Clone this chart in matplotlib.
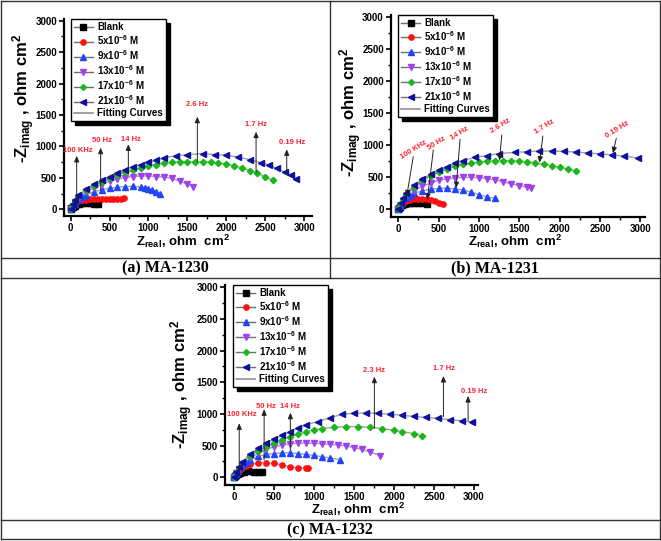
import matplotlib
matplotlib.use("Agg")
import matplotlib.pyplot as plt
from matplotlib.lines import Line2D
from matplotlib.ticker import MultipleLocator

plt.rcParams['font.family'] = ['Liberation Sans', 'DejaVu Sans']
plt.rcParams['font.weight'] = 'bold'
plt.rcParams['mathtext.fontset'] = 'custom'
plt.rcParams['mathtext.bf'] = 'Liberation Sans:bold'
plt.rcParams['mathtext.rm'] = 'Liberation Sans:bold'
plt.rcParams['mathtext.default'] = 'bf'

# ---------------- data ----------------
series_labels = ['Blank', '5x10$^{-6}$ M', '9x10$^{-6}$ M', '13x10$^{-6}$ M',
                 '17x10$^{-6}$ M', '21x10$^{-6}$ M']
series_colors = ['#000000', '#ff1010', '#2244ff', '#a040f0', '#18b818', '#1010a0']
series_markers = ['s', 'o', '^', 'v', 'D', '<']
panel_captions = ['(a) MA-1230', '(b) MA-1231', '(c) MA-1232']

# Panel (a) MA-1230
a_blank_x = [0, 10, 25, 50, 80, 110, 150, 200, 250, 300, 350]
a_blank_y = [0, 20, 40, 60, 78, 88, 95, 95, 92, 90, 88]
a_5_x = [0, 15, 35, 60, 100, 150, 200, 250, 300, 350, 400, 450, 500, 550, 600, 650, 690]
a_5_y = [0, 30, 60, 95, 125, 145, 155, 160, 160, 158, 158, 158, 160, 162, 165, 170, 175]
a_9_x = [0, 20, 50, 100, 150, 200, 300, 400, 500, 600, 700, 800, 900, 950, 1000, 1050, 1100, 1150]
a_9_y = [0, 45, 90, 150, 195, 230, 280, 310, 335, 350, 360, 365, 355, 345, 330, 310, 280, 250]
a_13_x = [0, 25, 60, 100, 200, 300, 400, 500, 600, 700, 800, 900, 1000, 1100, 1200, 1300, 1400, 1500, 1570]
a_13_y = [0, 60, 120, 170, 270, 340, 400, 445, 480, 505, 520, 530, 530, 520, 515, 490, 450, 400, 360]
a_17_x = [0, 30, 60, 100, 200, 300, 400, 500, 600, 700, 800, 900, 1000, 1100, 1200, 1300, 1400, 1500,
          1600, 1700, 1800, 1900, 2000, 2100, 2200, 2300, 2400, 2500, 2600]
a_17_y = [0, 75, 135, 200, 300, 370, 430, 490, 540, 590, 620, 660, 690, 710, 730, 745, 750, 755,
          755, 755, 745, 735, 720, 690, 660, 615, 570, 520, 460]
a_21_x = [0, 30, 60, 100, 200, 300, 400, 500, 600, 700, 800, 900, 1000, 1100, 1200, 1350, 1500, 1700,
          1850, 2000, 2150, 2300, 2450, 2550, 2650, 2750, 2830, 2900]
a_21_y = [0, 85, 150, 220, 320, 400, 470, 520, 580, 630, 680, 710, 750, 780, 820, 850, 870, 885,
          870, 860, 830, 790, 740, 700, 650, 590, 545, 480]

# Panel (b) MA-1231
b_blank_x = [0, 10, 25, 50, 80, 120, 160, 200, 250, 300, 350]
b_blank_y = [0, 22, 42, 65, 82, 92, 98, 100, 98, 94, 90]
b_5_x = [0, 15, 35, 60, 100, 150, 200, 250, 300, 350, 400, 450, 500, 560]
b_5_y = [0, 35, 65, 95, 125, 150, 162, 165, 163, 155, 140, 125, 105, 90]
b_9_x = [0, 20, 50, 100, 150, 200, 300, 400, 500, 600, 700, 800, 900, 1000, 1100, 1200]
b_9_y = [0, 50, 95, 170, 215, 250, 290, 315, 325, 330, 320, 300, 270, 230, 195, 170]
b_13_x = [0, 25, 60, 100, 200, 300, 400, 500, 600, 700, 800, 900, 1000, 1100, 1200, 1300, 1400, 1500, 1600, 1650]
b_13_y = [0, 65, 130, 190, 290, 360, 410, 450, 475, 490, 500, 500, 495, 480, 460, 430, 400, 370, 345, 330]
b_17_x = [0, 30, 60, 100, 200, 300, 400, 500, 600, 700, 800, 900, 1000, 1100, 1200, 1300, 1400, 1500,
          1600, 1700, 1800, 1900, 2000, 2100, 2200]
b_17_y = [0, 85, 155, 230, 350, 450, 520, 580, 630, 670, 700, 720, 740, 750, 755, 760, 758, 750,
          740, 725, 705, 680, 655, 630, 600]
b_21_x = [0, 30, 60, 100, 200, 300, 400, 500, 600, 700, 800, 950, 1100, 1250, 1450, 1600, 1750, 1900,
          2050, 2200, 2350, 2500, 2650, 2800, 2970]
b_21_y = [0, 95, 170, 250, 380, 470, 550, 610, 660, 720, 760, 810, 840, 870, 890, 900, 910, 910,
          905, 895, 880, 865, 850, 830, 800]

# Panel (c) MA-1232
c_blank_x = [0, 10, 30, 55, 80, 130, 180, 250, 300, 350]
c_blank_y = [0, 18, 40, 58, 70, 90, 95, 90, 88, 85]
c_5_x = [0, 15, 35, 60, 100, 150, 200, 300, 400, 500, 600, 700, 800, 900, 920]
c_5_y = [0, 35, 65, 95, 140, 180, 205, 225, 230, 220, 195, 165, 150, 150, 152]
c_9_x = [0, 20, 50, 100, 150, 200, 300, 400, 500, 600, 700, 800, 900, 1000, 1100, 1200, 1320]
c_9_y = [0, 55, 100, 180, 230, 270, 330, 360, 375, 385, 385, 375, 360, 345, 325, 305, 280]
c_13_x = [0, 25, 60, 100, 200, 300, 400, 500, 600, 700, 800, 900, 1000, 1100, 1200, 1300, 1400, 1500,
          1600, 1700, 1830]
c_13_y = [0, 70, 135, 200, 300, 380, 440, 480, 510, 530, 540, 540, 535, 530, 520, 510, 495, 470,
          440, 400, 340]
c_17_x = [0, 30, 60, 100, 200, 300, 400, 500, 600, 700, 800, 900, 1000, 1100, 1250, 1400, 1550, 1700,
          1850, 2000, 2100, 2250, 2350]
c_17_y = [0, 80, 145, 220, 330, 420, 480, 540, 590, 640, 680, 720, 750, 770, 790, 800, 800, 790,
          770, 740, 720, 690, 650]
c_21_x = [0, 30, 60, 100, 200, 300, 400, 500, 600, 700, 800, 900, 1050, 1200, 1350, 1500, 1650, 1800,
          1950, 2100, 2250, 2400, 2550, 2700, 2850, 2980]
c_21_y = [0, 90, 160, 240, 360, 460, 540, 600, 660, 720, 780, 830, 880, 940, 995, 1010, 1015, 1010,
          995, 980, 960, 945, 930, 910, 890, 870]

# frequency annotations
a_freq_labels = ['100 KHz', '50 Hz', '14 Hz', '2.6 Hz', '1.7 Hz', '0.19 Hz']
a_text_x = [90, 407, 771, 1628, 2383, 2841]
a_text_y = [930, 1090, 1110, 1660, 1350, 1060]
a_arrow_x = [77, 385, 741, 1628, 2383, 2777]
a_arrow_y0 = [40, 307, 560, 757, 580, 561]
a_arrow_y1 = [850, 980, 1034, 1473, 1235, 954]

b_freq_labels = ['100 KHz', '50 Hz', '14 Hz', '2.6 Hz', '1.7 Hz', '0.19 Hz']
b_text_x = [186, 476, 766, 1262, 1808, 2711]
b_text_y = [927, 1031, 1187, 1302, 1281, 1239]
b_line_x0 = [186, 434, 766, 1283, 1792, 2702]
b_line_y0 = [822, 926, 1094, 1161, 1145, 1109]
b_line_x1 = [104, 360, 716, 1254, 1750, 2661]
b_line_y1 = [200, 150, 330, 760, 728, 875]

c_freq_labels = ['100 KHz', '50 Hz', '14 Hz', '2.3 Hz', '1.7 Hz', '0.19 Hz']
c_text_x = [96, 398, 705, 1755, 2627, 3000]
c_text_y = [995, 1110, 1120, 1690, 1720, 1360]
c_arrow_x = [66, 377, 705, 1755, 2618, 2926]
c_arrow_y0 = [115, 273, 431, 773, 957, 894]
c_arrow_y1 = [853, 1074, 1020, 1589, 1600, 1284]

panels = [
    dict(data=[(a_blank_x, a_blank_y), (a_5_x, a_5_y), (a_9_x, a_9_y), (a_13_x, a_13_y),
               (a_17_x, a_17_y), (a_21_x, a_21_y)],
         rect_px=(64, 19.3, 312, 216), xlim=(-86, 3102), ylim=(-107, 3022),
         legend_px=(70.7, 19.3), ylabel_px=(24, 98), xlabel_px=(183, 246)),
    dict(data=[(b_blank_x, b_blank_y), (b_5_x, b_5_y), (b_9_x, b_9_y), (b_13_x, b_13_y),
               (b_17_x, b_17_y), (b_21_x, b_21_y)],
         rect_px=(390.7, 15, 645, 216.7), xlim=(-94, 3058), ylim=(-116, 3036),
         legend_px=(398, 15), ylabel_px=(351, 112), xlabel_px=(515, 246)),
    dict(data=[(c_blank_x, c_blank_y), (c_5_x, c_5_y), (c_9_x, c_9_y), (c_13_x, c_13_y),
               (c_17_x, c_17_y), (c_21_x, c_21_y)],
         rect_px=(225, 285, 478, 485), xlim=(-112, 3050), ylim=(-122, 3036),
         legend_px=(233, 285), ylabel_px=(182, 384), xlabel_px=(358, 514)),
]

W, H = 661, 541
fig = plt.figure(figsize=(W / 100, H / 100), dpi=100)


def fx(px):
    return px / W


def fy(py):
    return 1 - py / H


# table lines
line_kw = dict(color='#333333', lw=1.0, transform=fig.transFigure)
for (x0, y0, x1, y1) in [(1, 1, 660, 1), (1, 539, 660, 539), (1, 1, 1, 539), (660, 1, 660, 539),
                         (330, 1, 330, 278), (1, 258, 660, 258), (1, 278, 660, 278), (1, 520, 660, 520)]:
    fig.add_artist(Line2D([fx(x0), fx(x1)], [fy(y0), fy(y1)], **line_kw))

caption_pos = [(165, 268), (495, 268), (330, 530)]
for cap, (cx, cy) in zip(panel_captions, caption_pos):
    fig.text(fx(cx), fy(cy), cap, ha='center', va='center', fontsize=11.5,
             family=['Liberation Serif', 'DejaVu Serif'], fontweight='bold')

axes = []
for p in panels:
    l, t, r, b = p['rect_px']
    ax = fig.add_axes([fx(l), fy(b), fx(r) - fx(l), fy(t) - fy(b)])
    ax.set_xlim(*p['xlim'])
    ax.set_ylim(*p['ylim'])
    ax.patch.set_alpha(0)
    for s in ['top', 'right']:
        ax.spines[s].set_visible(False)
    for s in ['left', 'bottom']:
        ax.spines[s].set_linewidth(1.6)
    ax.xaxis.set_major_locator(MultipleLocator(500))
    ax.xaxis.set_minor_locator(MultipleLocator(250))
    ax.yaxis.set_major_locator(MultipleLocator(500))
    ax.yaxis.set_minor_locator(MultipleLocator(250))
    ax.tick_params(which='major', direction='out', length=3.5, width=1.2, labelsize=7, pad=1.5)
    ax.tick_params(which='minor', direction='out', length=2, width=1.0)
    for lab in ax.get_xticklabels() + ax.get_yticklabels():
        lab.set_fontweight('bold')
    for (xs, ys), c, m in zip(p['data'], series_colors, series_markers):
        ax.plot(xs, ys, color='#a0a0a0', lw=1.0, zorder=2)
        ax.plot(xs, ys, ls='none', marker=m, ms=3.8 if m != 'D' else 3.2, mfc=c, mec=c, zorder=3)
    handles = [Line2D([], [], color='#707070', lw=1.0, marker=m, ms=3.8 if m != 'D' else 3.0, mfc=c, mec=c)
               for c, m in zip(series_colors, series_markers)]
    handles.append(Line2D([], [], color='#909090', lw=1.2))
    lx, ly = p['legend_px']
    leg = ax.legend(handles, series_labels + ['Fitting Curves'], loc='upper left',
                    bbox_to_anchor=(fx(lx), fy(ly)), bbox_transform=fig.transFigure,
                    borderaxespad=0, fontsize=7, frameon=True, fancybox=False, framealpha=1,
                    edgecolor='black', shadow={'color': 'black', 'alpha': 1, 'ox': 3, 'oy': -3},
                    handlelength=2.0, handletextpad=0.4, labelspacing=0.12, borderpad=0.3)
    leg.get_frame().set_linewidth(1.0)
    for tx in leg.get_texts():
        tx.set_fontweight('bold')
    yx, yy = p['ylabel_px']
    fig.text(fx(yx), fy(yy), '-Z$_{imag}$ , ohm cm$^{2}$', rotation=90, ha='center', va='center',
             fontsize=12, fontweight='bold')
    xx, xy = p['xlabel_px']
    fig.text(fx(xx), fy(xy), 'Z$_{real}$, ohm  cm$^{2}$', ha='center', va='baseline',
             fontsize=9.5, fontweight='bold')
    axes.append(ax)

red_kw = dict(color='#ff2030', fontsize=5.5, fontweight='bold', ha='center', va='center')
arrow_kw = dict(arrowstyle='-|>,head_length=0.35,head_width=0.15', color='#222222', lw=0.7,
                shrinkA=0, shrinkB=0)

# panel a annotations
ax = axes[0]
for lab, tx, ty, axx, y0, y1 in zip(a_freq_labels, a_text_x, a_text_y, a_arrow_x, a_arrow_y0, a_arrow_y1):
    ax.annotate('', xy=(axx, y1), xytext=(axx, y0), arrowprops=arrow_kw)
    ax.text(tx, ty, lab, **red_kw)

# panel b annotations
ax = axes[1]
for lab, tx, ty, x0, y0, x1, y1 in zip(b_freq_labels, b_text_x, b_text_y, b_line_x0, b_line_y0,
                                       b_line_x1, b_line_y1):
    ax.annotate('', xy=(x1, y1), xytext=(x0, y0), arrowprops=arrow_kw)
    ax.text(tx, ty, lab, rotation=32, **red_kw)

# panel c annotations
ax = axes[2]
for lab, tx, ty, axx, y0, y1 in zip(c_freq_labels, c_text_x, c_text_y, c_arrow_x, c_arrow_y0, c_arrow_y1):
    ax.annotate('', xy=(axx, y1), xytext=(axx, y0), arrowprops=arrow_kw)
    ax.text(tx, ty, lab, **red_kw)

fig.savefig('out.png', dpi=100)
